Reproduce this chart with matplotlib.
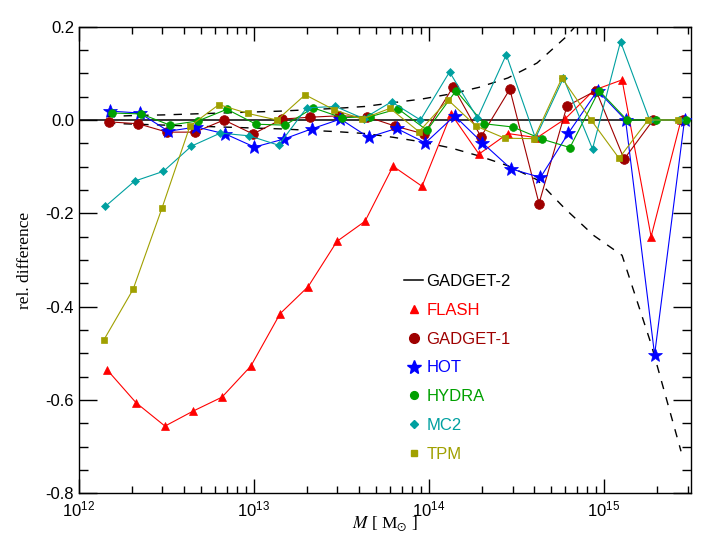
import matplotlib
matplotlib.use('Agg')
import matplotlib.pyplot as plt
from matplotlib.lines import Line2D
from matplotlib.ticker import LogLocator, FormatStrFormatter, MultipleLocator, NullFormatter

plt.rcParams['font.family'] = ['Liberation Sans', 'DejaVu Sans']
plt.rcParams['mathtext.fontset'] = 'stix'
plt.rcParams['axes.unicode_minus'] = False

# ---- data ----
mass_bins = [1.445e12, 2.12e12, 3.10e12, 4.48e12, 6.56e12, 9.61e12, 1.41e13,
             2.04e13, 2.98e13, 4.31e13, 6.23e13, 9.12e13, 1.337e14, 1.93e14,
             2.82e14, 4.14e14, 5.98e14, 8.77e14, 1.268e15, 1.858e15, 2.754e15]

codes = ['FLASH', 'GADGET-1', 'HOT', 'HYDRA', 'MC2', 'TPM']

# mean bin mass of each code relative to the common bin centre
mass_shift = {'FLASH': 1.0, 'GADGET-1': 1.027, 'HOT': 1.047,
              'HYDRA': 1.068, 'MC2': 0.98, 'TPM': 0.961}

flash = [-0.535, -0.606, -0.656, -0.624, -0.594, -0.527, -0.415, -0.357, -0.260,
         -0.217, -0.099, -0.142, 0.013, -0.073, -0.029, -0.038, 0.002, 0.064,
         0.086, -0.250, 0.0]
gadget1 = [-0.004, -0.008, -0.026, -0.026, 0.0, -0.030, 0.002, 0.006, 0.009,
           0.007, -0.013, -0.030, 0.071, -0.036, 0.066, -0.179, 0.030, 0.063,
           -0.084, 0.0, 0.0]
hot = [0.019, 0.015, -0.024, -0.015, -0.030, -0.058, -0.041, -0.019, 0.002,
       -0.037, -0.018, -0.049, 0.009, -0.049, -0.105, -0.123, -0.028, 0.063,
       0.0, -0.503, 0.0]
hydra = [0.015, 0.013, -0.011, -0.002, 0.023, -0.009, -0.011, 0.026, 0.005,
         0.007, 0.024, -0.022, 0.063, -0.008, -0.015, -0.041, -0.059, 0.063,
         0.0, 0.0, 0.0]
mc2 = [-0.185, -0.131, -0.110, -0.056, -0.028, -0.034, -0.054, 0.026, 0.029,
       0.003, 0.039, 0.0, 0.103, 0.004, 0.140, -0.039, 0.090, -0.062,
       0.168, 0.0, 0.0]
tpm = [-0.471, -0.363, -0.189, -0.013, 0.033, 0.014, 0.0, 0.054, 0.022,
       0.002, 0.025, -0.025, 0.043, -0.013, -0.039, -0.040, 0.090, 0.0,
       -0.082, 0.0, 0.0]

rel_diff = {'FLASH': flash, 'GADGET-1': gadget1, 'HOT': hot,
            'HYDRA': hydra, 'MC2': mc2, 'TPM': tpm}

gadget2_upper = [0.0075, 0.0097, 0.011, 0.013, 0.015, 0.017, 0.019, 0.022, 0.025,
                 0.029, 0.037, 0.045, 0.056, 0.070, 0.090, 0.122, 0.176, 0.245,
                 0.29, 0.48, 0.71]
gadget2_lower = [-0.007, -0.009, -0.011, -0.013, -0.015, -0.017, -0.019, -0.022,
                 -0.025, -0.029, -0.037, -0.047, -0.060, -0.077, -0.098, -0.128,
                 -0.190, -0.248, -0.290, -0.480, -0.710]

# ---- style ----
colors = {'FLASH': '#ff0000', 'GADGET-1': '#9e0000', 'HOT': '#0000ff',
          'HYDRA': '#00a000', 'MC2': '#00a0a0', 'TPM': '#a0a000'}
markers = {'FLASH': '^', 'GADGET-1': 'o', 'HOT': '*', 'HYDRA': 'o',
           'MC2': 'D', 'TPM': 's'}
msizes = {'FLASH': 6.0, 'GADGET-1': 7.0, 'HOT': 10.0, 'HYDRA': 5.6,
          'MC2': 3.6, 'TPM': 4.6}

fig = plt.figure(figsize=(7.09, 5.5), dpi=100)
ax = fig.add_axes([0.1114, 0.1031, 0.8632, 0.8484])

ax.axhline(0.0, color='black', lw=1.1, zorder=1)
ax.plot(mass_bins, gadget2_upper, color='black', lw=1.0, dashes=(6, 6), zorder=1)
ax.plot(mass_bins, gadget2_lower, color='black', lw=1.0, dashes=(6, 6), zorder=1)

handles = [Line2D([], [], color='black', lw=1.1)]
labels = ['GADGET-2']
for i, c in enumerate(codes):
    xs = [m * mass_shift[c] for m in mass_bins]
    ax.plot(xs, rel_diff[c], color=colors[c], lw=0.8, marker=markers[c],
            ms=msizes[c], mec=colors[c], mfc=colors[c], mew=0.5, zorder=2 + i)
    handles.append(Line2D([], [], color=colors[c], ls='none', marker=markers[c],
                          ms=msizes[c], mec=colors[c], mfc=colors[c]))
    labels.append(c)

ax.set_xscale('log')
ax.set_xlim(1e12, 3.14e15)
ax.set_ylim(-0.8, 0.2)

ax.yaxis.set_major_locator(MultipleLocator(0.2))
ax.yaxis.set_minor_locator(MultipleLocator(0.05))
ax.yaxis.set_major_formatter(FormatStrFormatter('%.1f'))
ax.xaxis.set_major_locator(LogLocator(base=10, numticks=10))
ax.xaxis.set_minor_locator(LogLocator(base=10, subs=range(2, 10), numticks=20))
ax.xaxis.set_minor_formatter(NullFormatter())

ax.tick_params(axis='both', which='both', direction='in', top=True, right=True,
               width=1.0, labelsize=12)
ax.tick_params(axis='y', which='major', length=13, pad=3.5)
ax.tick_params(axis='y', which='minor', length=6.5)
ax.tick_params(axis='x', which='major', length=10, pad=4.5)
ax.tick_params(axis='x', which='minor', length=5)
for s in ax.spines.values():
    s.set_linewidth(1.0)

ax.set_ylabel('rel. difference', family='Liberation Serif', fontsize=12.5)
ax.yaxis.set_label_coords(-0.075, 0.5)
ax.set_xlabel(r'$M$ [ M$_{\odot}$ ]', family='Liberation Serif', fontsize=12.5)
ax.xaxis.set_label_coords(0.5, -0.045)

leg = ax.legend(handles, labels, loc='upper left', bbox_to_anchor=(0.531, 0.47),
                frameon=False, fontsize=12, handlelength=1.15, handletextpad=0.2,
                labelspacing=0.83, borderpad=0, borderaxespad=0, numpoints=1,
                labelcolor=['black'] + [colors[c] for c in codes])

fig.savefig('out.png', dpi=100)
